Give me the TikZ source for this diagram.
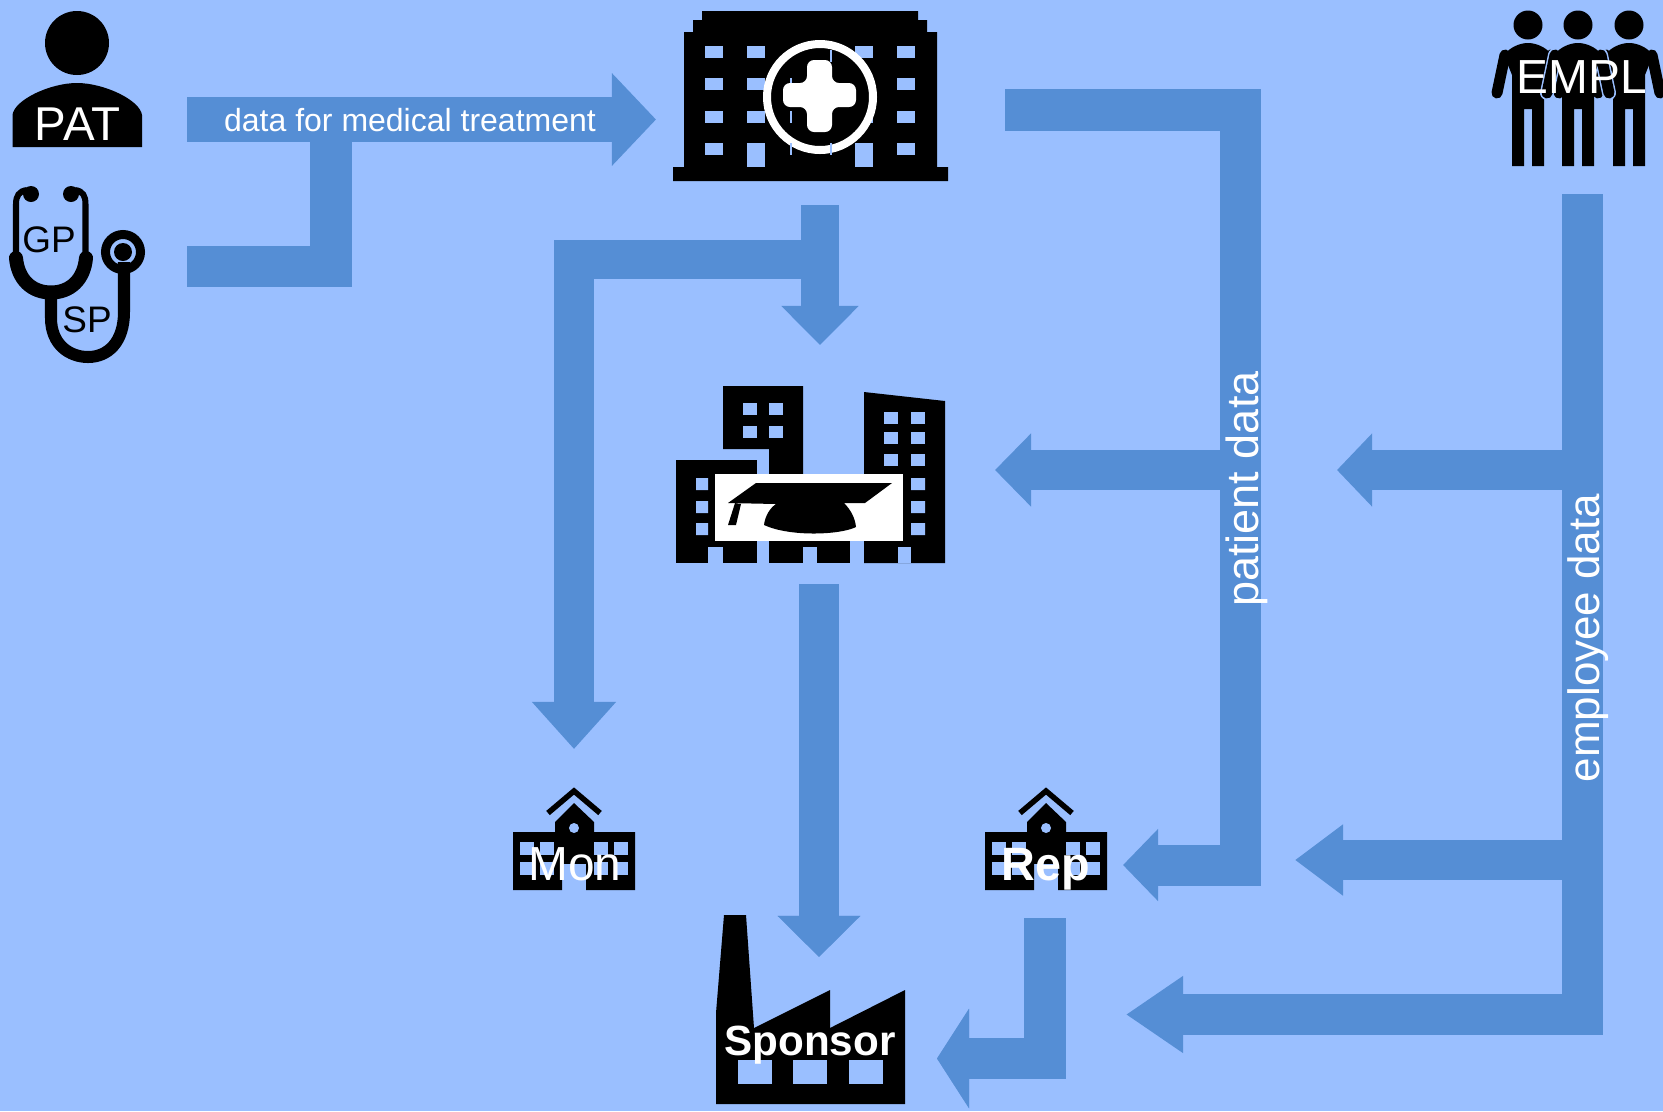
\documentclass[tikz,border=0pt]{standalone}
\usepackage{fontspec}
\setmainfont{Liberation Sans}
\usetikzlibrary{arrows.meta}
\definecolor{bgblue}{HTML}{9ABFFF}
\definecolor{barblue}{HTML}{558ED5}
\definecolor{ghostblue}{HTML}{6E9FE2}

\tikzset{
  flow/.style n args={3}{draw=barblue, line width=#1, -{Triangle[length=#2,width=#3]}},
  bar/.style={draw=barblue, line width=#1},
  ghost/.style={draw=ghostblue, xshift=-0.025cm, yshift=-0.025cm},
  pics/person/.style={code={
    \fill (0,25) circle (14.5);
    \draw[bgblue, line width=0.14cm, line cap=round] (-23,55) -- (-31,93) (23,55) -- (31,93);
    \draw[line width=0.11cm, line cap=round] (-23,55) -- (-31,93) (23,55) -- (31,93);
    \fill (-16,166) -- (-16,75) -- (-24,55) .. controls (-18,47) and (-8,43) .. (0,43)
      .. controls (8,43) and (18,47) .. (24,55) -- (16,75) -- (16,166) -- (4,166)
      -- (4,109) -- (-4,109) -- (-4,166) -- cycle;
  }},
  pics/school/.style={code={
    \fill (-61,890) rectangle (-12,832) (12,890) rectangle (61,832);
    \fill (-19,832) rectangle (20,864);
    \fill (-19,835) -- (-19,822) -- (0,803) -- (20,822) -- (20,835) -- cycle;
    \fill[bgblue] (0,828) circle (5);
    \draw[line width=0.055cm] (-26,813) -- (0,791) -- (26,813);
    \foreach \x in {-54,-34,20,40} \foreach \y in {842,862}
      \fill[bgblue] (\x,\y) rectangle ++(14,13);
  }}
}

\begin{document}
\begin{tikzpicture}[
  x=0.01cm, y=-0.01cm,
  every node/.style={text=white, anchor=base, inner sep=0pt},
  lab/.style={font=\fontsize{#1}{#1}\selectfont},
]
\useasboundingbox[fill=bgblue] (0,0) rectangle (1663,1111);

\coordinate (patout) at (187,119.5);
\coordinate (hospin) at (656,119.5);
\coordinate (gpout) at (187,266);
\coordinate (gpjoin) at (331,120);
\coordinate (hospout) at (1005,110);
\coordinate (patbend) at (1240,865);
\coordinate (patsplit) at (1240,470);
\coordinate (repin) at (1123,865);
\coordinate (uniin) at (995,470);
\coordinate (hospdown) at (820,205);
\coordinate (hospsplit) at (820,259);
\coordinate (unitop) at (820,345);
\coordinate (monin) at (574,749);
\coordinate (unidown) at (819,584);
\coordinate (sponsortop) at (819,957);
\coordinate (repdown) at (1045,918);
\coordinate (sponsorin) at (937,1058.5);
\coordinate (emplout) at (1582,194);
\coordinate (emplsplit) at (1582,470);
\coordinate (emplrep) at (1582,860);
\coordinate (uniin2) at (1337,470);
\coordinate (repin2) at (1295,860);
\coordinate (sponsorin2) at (1126,1014.5);

\draw[bar=0.41cm] (gpout) -| (gpjoin);
\draw[flow={0.45cm}{0.44cm}{0.90cm}] (patout) -- (hospin);
\draw[flow={0.41cm}{0.35cm}{0.70cm}] (hospout) -| (patbend) -- (repin);
\draw[flow={0.40cm}{0.36cm}{0.71cm}] (patsplit) -- (uniin);
\draw[flow={0.39cm}{0.47cm}{0.81cm}] (hospsplit) -| (monin);
\draw[flow={0.38cm}{0.39cm}{0.75cm}] (hospdown) -- (unitop);
\draw[flow={0.40cm}{0.41cm}{0.80cm}, ghost] (unidown) -- (sponsortop);
\draw[flow={0.40cm}{0.41cm}{0.80cm}] (unidown) -- (sponsortop);
\draw[flow={0.41cm}{0.32cm}{0.98cm}, ghost] (repdown) |- (sponsorin);
\draw[flow={0.41cm}{0.32cm}{0.98cm}] (repdown) |- (sponsorin);
\draw[flow={0.41cm}{0.57cm}{0.73cm}] (emplout) |- (sponsorin2);
\draw[flow={0.40cm}{0.35cm}{0.71cm}] (emplsplit) -- (uniin2);
\draw[flow={0.40cm}{0.48cm}{0.68cm}] (emplrep) -- (repin2);

\fill (77,43) circle (32);
\fill (12.5,147) -- (12.5,115) .. controls (14,100) and (50,83) .. (77,83)
  .. controls (104,83) and (140,100) .. (142,115) -- (142,147) -- cycle;

\fill (31,194) circle (8) (71,194) circle (8);
\draw[line width=0.06cm] (27,190) .. controls (19,191) and (16,196) .. (16,204) -- (16,255)
  (75,190) .. controls (83,191) and (85.5,196) .. (85.5,204) -- (85.5,255);
\draw[line width=0.12cm] (51,292) -- (51,318) .. controls (51,345) and (70,357) .. (88,357)
  .. controls (108,357) and (124,342) .. (124,312) -- (124,262);
\draw[line width=0.14cm, line cap=round] (16,258) .. controls (18,280) and (32,292.5) .. (51,292.5)
  .. controls (70,292.5) and (84,280) .. (86,258);
\draw[line width=0.09cm] (123,252) circle (17.5);
\fill (123,252) circle (9);

\fill (702,11) -- (918,11) -- (918,20) -- (927,20) -- (927,32) -- (937,32) -- (937,167) -- (948,167)
  -- (948,181) -- (673,181) -- (673,167) -- (684,167) -- (684,32) -- (693,32) -- (693,20) -- (702,20) -- cycle;
\foreach \x in {705,747,855,897} \foreach \y in {46,78,111,143}
  \fill[bgblue] (\x,\y) rectangle ++(18,12);
\foreach \x in {747,855}
  \fill[bgblue] (\x,143) rectangle ++(18,24);
\draw[white, fill=black, line width=0.08cm] (820,97) circle (53);
\foreach \x/\y in {790/78,790/111,790/143,830/50,830/143}
  \fill[bgblue] (\x,\y) rectangle ++(2,12);
\fill[white, rounded corners=2] (783,83) -- (807,83) -- (807,60) -- (832,60) -- (832,83) -- (856,83)
  -- (856,107) -- (832,107) -- (832,132) -- (807,132) -- (807,107) -- (783,107) -- cycle;

\fill (676,460) rectangle (757,563);
\fill (723,386) -- (803,386) -- (803,480) -- (769,480) -- (769,449) -- (723,449) -- cycle;
\fill (769,474) rectangle (850,563);
\fill (864,392) -- (945,401) -- (945,563) -- (864,563) -- cycle;
\foreach \x/\w in {708/15,803/14,898/13}
  \fill[bgblue] (\x,547) rectangle ++(\w,16);
\foreach \y in {478,501,523}
  \fill[bgblue] (696,\y) rectangle ++(12,12) (911,\y) rectangle ++(14,12);
\foreach \x in {743,769} \foreach \y in {403,426}
  \fill[bgblue] (\x,\y) rectangle ++(14,12);
\foreach \x in {884,911} \foreach \y in {412,432,454}
  \fill[bgblue] (\x,\y) rectangle ++(14,12);
\fill[white] (715,474) rectangle (903,541);
\fill (728,503) -- (756,483) -- (892,483) -- (865,503) -- (844,503)
  .. controls (851,510) and (855,518) .. (856,527) .. controls (840,535) and (790,537) .. (764,525)
  .. controls (765,516) and (770,508) .. (776,504) -- cycle;
\fill (735,503) -- (741,504) -- (736,525) -- (728,525) -- cycle;

\foreach \x in {1528,1629,1578}
  \pic at (\x,0) {person};

\pic at (574,0) {school};
\pic at (1046,0) {school};

\fill (716,1104) -- (716,1013) -- (724,915) -- (746,915) -- (754,1028) -- (830,990) -- (830,1028)
  -- (905,990) -- (905,1104) -- cycle;
\foreach \x in {738,793,849}
  \fill[bgblue] (\x,1060) rectangle ++(34,24);

\node[lab=13.5] (pat) at (77.5,140) {PAT};
\node[lab=10.5, text=black] (gp) at (49,252) {GP};
\node[lab=10.5, text=black] (sp) at (87,332) {SP};
\node[lab=13.6] (empl) at (1581.5,93) {EMPL};
\node[lab=13.6] (mon) at (575,880) {Mon};
\node[font=\fontsize{13.3}{13.3}\selectfont\bfseries] (rep) at (1046,880) {Rep};
\node[font=\fontsize{12}{12}\selectfont\bfseries] (sponsor) at (810,1055) {Sponsor};
\node[lab=9.1] (treat) at (410,131) {data for medical treatment};
\node[lab=12.8, rotate=90] (patlab) at (1258,489) {patient data};
\node[lab=12.5, rotate=90] (emplab) at (1599,638) {employee data};
\end{tikzpicture}
\end{document}
